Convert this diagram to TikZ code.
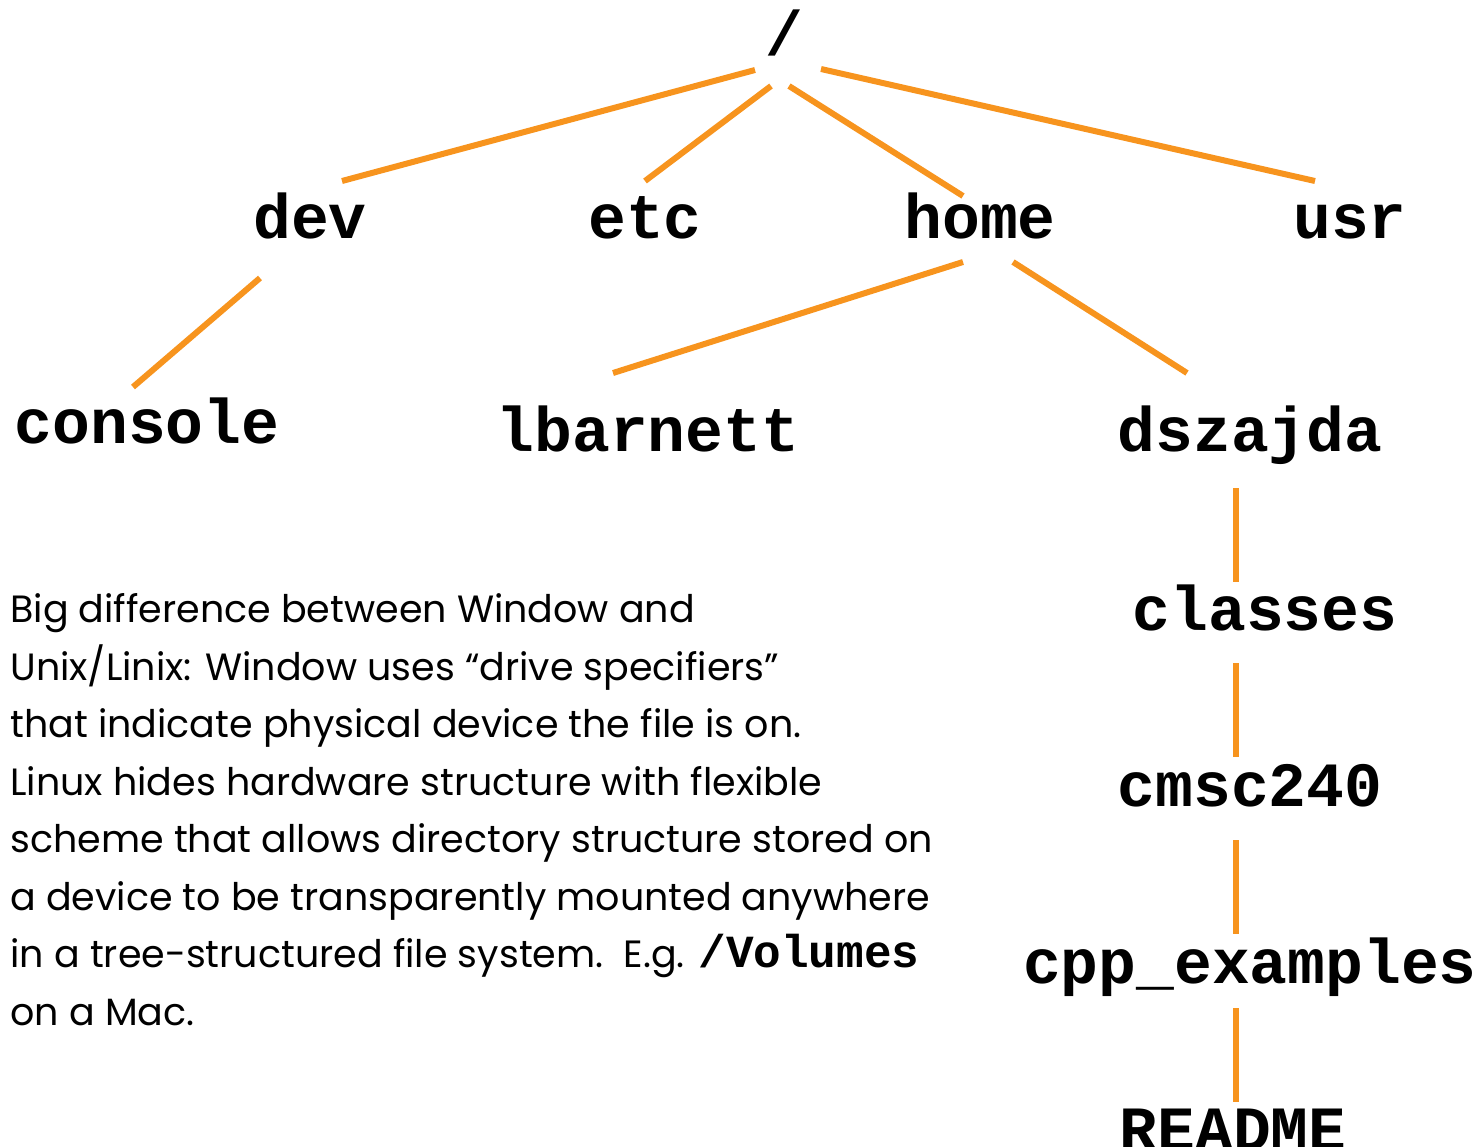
\documentclass[tikz,border=0pt]{standalone}
\usepackage{fontspec}
\setmainfont{Poppins}
\newfontfamily\codefont{Liberation Mono}
\definecolor{treeorange}{RGB}{247,148,30}
\begin{document}
\begin{tikzpicture}[x=0.5pt,y=-0.5pt,
  dir/.style={font=\codefont\bfseries\fontsize{31.5}{31.5}\selectfont, inner sep=0pt, anchor=base},
  body/.style={font=\fontsize{19}{19}\selectfont, inner sep=0pt, anchor=base west},
  link/.style={draw=treeorange, line width=3pt}]
\useasboundingbox (0,0) rectangle (1481,1146);
\node[dir] (root) at (784,55) {/};
\node[dir] (dev) at (310,238) {dev};
\node[dir] (etc) at (645,238) {etc};
\node[dir] (home) at (980,238) {home};
\node[dir] (usr) at (1350,238) {usr};
\node[dir] (console) at (147,443) {console};
\node[dir] (lbarnett) at (648,451) {lbarnett};
\node[dir] (dszajda) at (1250,451) {dszajda};
\node[dir] (classes) at (1265,630) {classes};
\node[dir] (cmsc) at (1250,806) {cmsc240};
\node[dir] (cpp) at (1250,983) {cpp\_examples};
\node[dir] (readme) at (1233,1150) {README};
% connectors
\draw[link] ([shift={(-29,15)}]root.base) -- ([shift={(32,-57)}]dev.base);
\draw[link] ([shift={(-13,31)}]root.base) -- ([shift={(0,-57)}]etc.base);
\draw[link] ([shift={(5,31)}]root.base) -- ([shift={(-17,-42)}]home.base);
\draw[link] ([shift={(37,14)}]root.base) -- ([shift={(-35,-57)}]usr.base);
\draw[link] ([shift={(-50,40)}]dev.base) -- ([shift={(-14,-56)}]console.base);
\draw[link] ([shift={(-17,24)}]home.base) -- ([shift={(-35,-78)}]lbarnett.base);
\draw[link] ([shift={(33,24)}]home.base) -- ([shift={(-63,-78)}]dszajda.base);
\draw[link] ([shift={(-14,37)}]dszajda.base) -- ([shift={(-29,-48)}]classes.base);
\draw[link] ([shift={(-29,33)}]classes.base) -- ([shift={(-14,-49)}]cmsc.base);
\draw[link] ([shift={(-14,34)}]cmsc.base) -- ([shift={(-14,-49)}]cpp.base);
\draw[link] ([shift={(-14,25)}]cpp.base) -- ([shift={(3,-48)}]readme.base);
% text
\node[body] (t1) at (10,622) {Big difference between Window and};
\node[body] (t2) at (10,680) {Unix/Linix: Window uses “drive specifiers”};
\node[body] (t3) at (10,737) {that indicate physical device the file is on.};
\node[body] (t4) at (10,795) {Linux hides hardware structure with flexible};
\node[body] (t5) at (10,852) {scheme that allows directory structure stored on};
\node[body] (t6) at (10,910) {a device to be transparently mounted anywhere};
\node[body] (t7) at (10,967) {in a tree-structured file system.\ \ E.g. {\codefont\bfseries\fontsize{23}{23}\selectfont /Volumes}};
\node[body] (t8) at (10,1025) {on a Mac.};
\end{tikzpicture}
\end{document}
